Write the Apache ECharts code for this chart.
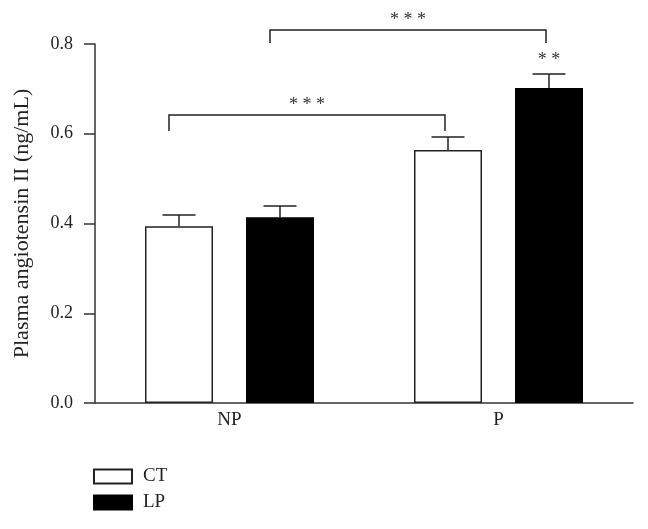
<!DOCTYPE html>
<html>
<head>
<meta charset="utf-8">
<script src="https://cdn.jsdelivr.net/npm/echarts@6/dist/echarts.min.js"></script>
<style>
  html, body { margin: 0; padding: 0; background: #fff; }
  #main { width: 648px; height: 529px; }
</style>
</head>
<body>
<div id="main"></div>
<script>
// data
const categories = ['NP', 'P'];
const ctMean = [0.394, 0.564];
const ctErr = [0.025, 0.029];
const lpMean = [0.414, 0.702];
const lpErr = [0.025, 0.031];
const yTicks = [0, 0.2, 0.4, 0.6, 0.8];

// significance brackets: [fromCategory, fromSeries, toCategory, toSeries, level, drop, label]
const brackets = [
  [0, 0, 1, 0, 0.642, 0.036, '* * *'],
  [0, 1, 1, 1, 0.831, 0.029, '* * *']
];
// single stars: [category, series, value, label]
const stars = [[1, 1, 0.763, '* *']];

const barW = 68;
const gapPx = 33;
const half = (barW + gapPx) / 2;
const font = '"Liberation Serif", "DejaVu Serif", serif';

const chart = echarts.init(document.getElementById('main'));

function errSeries(idx, mean, err) {
  return {
    type: 'custom',
    z: 5,
    silent: true,
    data: mean.map((m, i) => [i, m, err[i]]),
    renderItem: function (params, api) {
      const off = idx === 0 ? -half : half;
      const top = api.coord([api.value(0), api.value(1) + api.value(2)]);
      const base = api.coord([api.value(0), api.value(1)]);
      const x = top[0] + off;
      const cap = 16.5;
      return {
        type: 'group',
        children: [
          { type: 'line', shape: { x1: x, y1: base[1], x2: x, y2: top[1] }, style: { stroke: '#222', lineWidth: 1.5 } },
          { type: 'line', shape: { x1: x - cap, y1: top[1], x2: x + cap, y2: top[1] }, style: { stroke: '#222', lineWidth: 1.5 } }
        ]
      };
    }
  };
}

const option = {
  animation: false,
  backgroundColor: '#fff',
  textStyle: { fontFamily: font },
  grid: { left: 95, right: 15, top: 44, bottom: 126 },
  legend: {
    orient: 'vertical',
    left: 93,
    top: 467,
    padding: 0,
    itemWidth: 38,
    itemHeight: 14,
    itemGap: 7,
    icon: 'rect',
    data: ['CT', 'LP'],
    textStyle: { fontFamily: font, fontSize: 19, color: '#222', padding: [0, 0, 0, 6] }
  },
  xAxis: {
    type: 'category',
    data: categories,
    axisLine: { lineStyle: { color: '#333', width: 1.5 } },
    axisTick: { show: false },
    axisLabel: { fontFamily: font, fontSize: 19, color: '#222', margin: 8 }
  },
  yAxis: {
    type: 'value',
    min: 0,
    max: 0.8,
    interval: 0.2,
    name: 'Plasma angiotensin II (ng/mL)',
    nameLocation: 'middle',
    nameGap: 62,
    nameTextStyle: { fontFamily: font, fontSize: 22, color: '#222' },
    axisLine: { show: true, lineStyle: { color: '#333', width: 1.5 } },
    axisTick: { show: true, length: 11, lineStyle: { color: '#333', width: 1.5 } },
    splitLine: { show: false },
    axisLabel: {
      fontFamily: font, fontSize: 18, color: '#222', margin: 22,
      formatter: v => yTicks.includes(Math.round(v * 10) / 10) ? v.toFixed(1) : ''
    }
  },
  series: [
    {
      name: 'CT',
      type: 'bar',
      barWidth: barW,
      barGap: (gapPx / barW * 100) + '%',
      data: ctMean,
      itemStyle: { color: '#fff', borderColor: '#222', borderWidth: 1.5 }
    },
    {
      name: 'LP',
      type: 'bar',
      barWidth: barW,
      data: lpMean,
      itemStyle: { color: '#000', borderColor: '#000', borderWidth: 1.5 }
    },
    errSeries(0, ctMean, ctErr),
    errSeries(1, lpMean, lpErr),
    {
      type: 'custom',
      silent: true,
      clip: false,
      z: 6,
      data: brackets,
      renderItem: function (params, api) {
        const b = brackets[params.dataIndex];
        const p1 = api.coord([b[0], b[4]]);
        const p2 = api.coord([b[2], b[4]]);
        const low = api.coord([b[0], b[4] - b[5]]);
        const x1 = p1[0] + (b[1] === 0 ? -half : half) - 10;
        const x2 = p2[0] + (b[3] === 0 ? -half : half) - 3;
        const y = p1[1];
        return {
          type: 'group',
          children: [
            { type: 'polyline', shape: { points: [[x1, low[1]], [x1, y], [x2, y], [x2, low[1]]] }, style: { stroke: '#222', lineWidth: 1.5, fill: null } },
            { type: 'text', style: { text: b[6], x: (x1 + x2) / 2, y: y - 10, align: 'center', verticalAlign: 'middle', font: '18px ' + font, fill: '#333' } }
          ]
        };
      }
    },
    {
      type: 'custom',
      silent: true,
      clip: false,
      z: 6,
      data: stars,
      renderItem: function (params, api) {
        const s = stars[params.dataIndex];
        const p = api.coord([s[0], s[2]]);
        return {
          type: 'text',
          style: { text: s[3], x: p[0] + (s[1] === 0 ? -half : half), y: p[1], align: 'center', verticalAlign: 'middle', font: '18px ' + font, fill: '#333' }
        };
      }
    }
  ]
};

chart.setOption(option);
</script>
</body>
</html>
